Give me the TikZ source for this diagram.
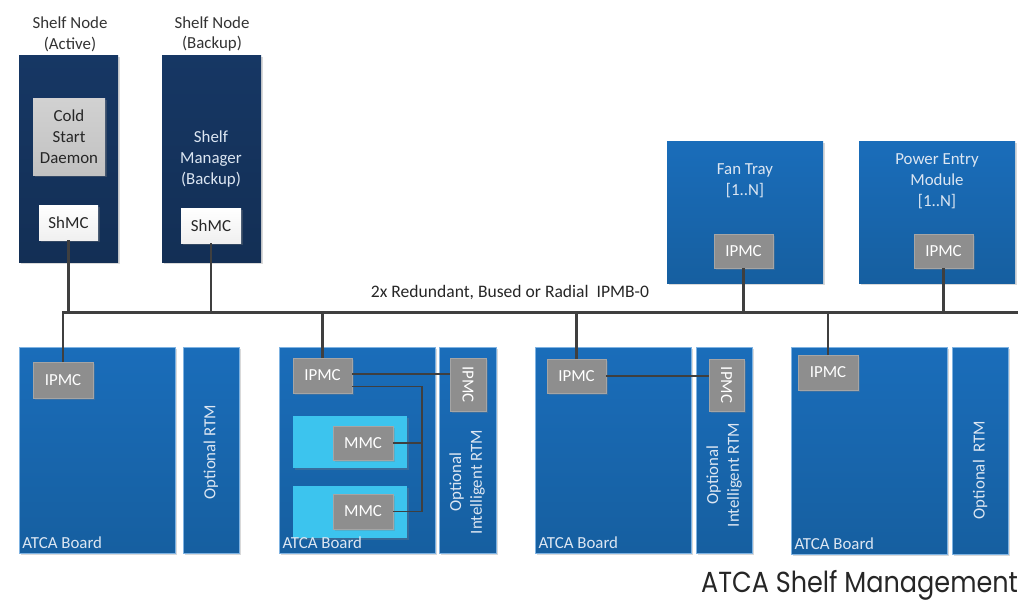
\documentclass[tikz,border=0pt]{standalone}
\usepackage{fontspec}
\setmainfont{Carlito}
\newfontfamily\titlefont{Poppins}
\usepackage{tikz}
\usetikzlibrary{shadows}
\definecolor{navy}{HTML}{163764}
\definecolor{navybot}{HTML}{132F55}
\definecolor{boardtop}{HTML}{1A6DBA}
\definecolor{boardbot}{HTML}{165FA0}
\definecolor{boardline}{HTML}{7FB3E2}
\definecolor{cyanbox}{HTML}{3CC4EE}
\definecolor{chipgray}{HTML}{8E8E8E}
\definecolor{busgray}{HTML}{3F3F3F}
\definecolor{paletext}{HTML}{DCE6F2}

\begin{document}
\begin{tikzpicture}[x=0.02cm, y=-0.02cm,
    every node/.style={font=\fontsize{9.6}{11.8}\selectfont, inner sep=0pt, outer sep=0pt},
    wh/.style 2 args={minimum width=#1*0.02cm, minimum height=#2*0.02cm},
    shade/.style={drop shadow={shadow xshift=1.2pt, shadow yshift=-1.2pt, opacity=0.3}},
    shelf/.style={anchor=north west, rectangle, top color=navy, bottom color=navybot, shade},
    board/.style={anchor=north west, rectangle, top color=boardtop, bottom color=boardbot, draw=boardline, line width=0.5pt, shade},
    chip/.style={anchor=north west, rectangle, fill=chipgray, draw=chipgray!80!white, text=white, shade},
    mezz/.style={anchor=north west, rectangle, fill=cyanbox, shade},
    csd/.style={anchor=north west, rectangle, top color=black!18, bottom color=black!24, text=black!85, align=center, shade},
    shmc/.style={anchor=north west, rectangle, top color=white, bottom color=black!6, text=black!85, shade},
    caption/.style={text=paletext, align=center},
    boardlbl/.style={anchor=base west, text=paletext},
    bus/.style={draw=busgray, line width=1.7pt},
    link/.style={draw=busgray, line width=0.7pt}
]
\useasboundingbox (0,0) rectangle (1029,603);

% --- Shelf nodes ---
\node[text=black!80, align=center] (lblact) at (70,34) {Shelf Node\\(Active)};
\node[text=black!80, align=center] (lblbak) at (212,34) {Shelf Node\\(Backup)};
\node[shelf, wh={99}{207}] (shact) at (19,55) {};
\node[shelf, wh={99}{207}] (shbak) at (162,55) {};
\node[csd, wh={72}{77}] (csd) at (33,98) {Cold\\Start\\Daemon};
\node[shmc, wh={59}{35}] (shmca) at (39,205) {ShMC};
\node[caption] (mgr) at (211,159) {Shelf\\Manager\\(Backup)};
\node[shmc, wh={60}{35}] (shmcb) at (181,208) {ShMC};

% --- Fan tray and power entry ---
\node[board, draw=none, wh={156}{142}] (fan) at (667,141) {};
\node[caption] (fantxt) at (745,181) {Fan Tray\\{[1..N]}};
\node[chip, wh={59}{34}] (ipmcf) at (714,234) {IPMC};
\node[board, draw=none, wh={156}{142}] (pem) at (859,141) {};
\node[caption] (pemtxt) at (937,181) {Power Entry\\Module\\{[1..N]}};
\node[chip, wh={59}{34}] (ipmcp) at (914,234) {IPMC};

% --- ATCA boards and RTMs ---
\node[board, wh={156}{206}] (b1) at (19,347) {};
\node[board, wh={56}{206}] (rtm1) at (183,347) {};
\node[board, wh={156}{206}] (b2) at (279,347) {};
\node[board, wh={57}{206}] (rtm2) at (439,347) {};
\node[board, wh={156}{206}] (b3) at (535,347) {};
\node[board, wh={56}{206}] (rtm3) at (696,347) {};
\node[board, wh={156}{207}] (b4) at (791,347) {};
\node[board, wh={56}{207}] (rtm4) at (952,347) {};

\node[chip, wh={60}{36}] (ipmc1) at (33,362) {IPMC};
\node[chip, wh={59}{35}] (ipmc2) at (293,358) {IPMC};
\node[chip, wh={59}{34}] (ipmc3) at (547,359) {IPMC};
\node[chip, wh={60}{35}] (ipmc4) at (798,355) {IPMC};
\node[chip, wh={36}{53}] (rip2) at (450,358) {};
\node[text=white, rotate=-90] at (rip2) {IPMC};
\node[chip, wh={35}{52}] (rip3) at (709,359) {};
\node[text=white, rotate=-90] at (rip3) {IPMC};

\node[mezz, wh={114}{52}] (cy1) at (293,416) {};
\node[chip, wh={60}{34}] (mmc1) at (333,426) {MMC};
\node[mezz, wh={114}{52}] (cy2) at (293,486) {};
\node[chip, wh={60}{35}] (mmc2) at (333,494) {MMC};

\foreach \b in {b1,b2,b3,b4}
  \node[boardlbl] at ([xshift=0.07cm, yshift=0.1cm]\b.south west) {ATCA Board};

\node[caption, rotate=90] at (211,452) {Optional RTM};
\node[caption, rotate=90] at (980,470) {Optional\ \ RTM};
\node[caption, rotate=90] at (467,482) {Optional\\Intelligent RTM};
\node[caption, rotate=90] at (724,475) {Optional\\Intelligent RTM};

% --- IPMB-0 bus ---
\coordinate (busR) at (1018,312);
\node[text=black!85, font=\fontsize{10}{12}\selectfont] (buslbl) at (510,293) {2x Redundant, Bused or Radial\ \ IPMB-0};
\draw[bus] (ipmc1.north) |- (busR);
\foreach \n in {shmca,shmcb,ipmcf,ipmcp}
  \draw[bus] (\n.south) -- (\n.south |- busR);
\foreach \n in {ipmc2,ipmc3,ipmc4}
  \draw[bus] (\n.north) -- (\n.north |- busR);

% --- on-board links ---
\coordinate (jn) at (422,387);
\draw[link] ([yshift=0.03cm]ipmc2.east) -- ([yshift=0.03cm]ipmc2.east -| rip2.west);
\draw[link] ([yshift=-0.22cm]ipmc2.east) -| (jn |- mmc2.east) -- (mmc2.east);
\draw[link] (mmc1.east) -- (jn |- mmc1.east);
\draw[link] (ipmc3.east) -- (ipmc3.east -| rip3.west);

\node[font=\titlefont\fontsize{16.5}{20}\selectfont, text=black!85, anchor=base east] (title) at (1018,592) {\scalebox{0.88}[1]{ATCA Shelf Management}};
\end{tikzpicture}
\end{document}
